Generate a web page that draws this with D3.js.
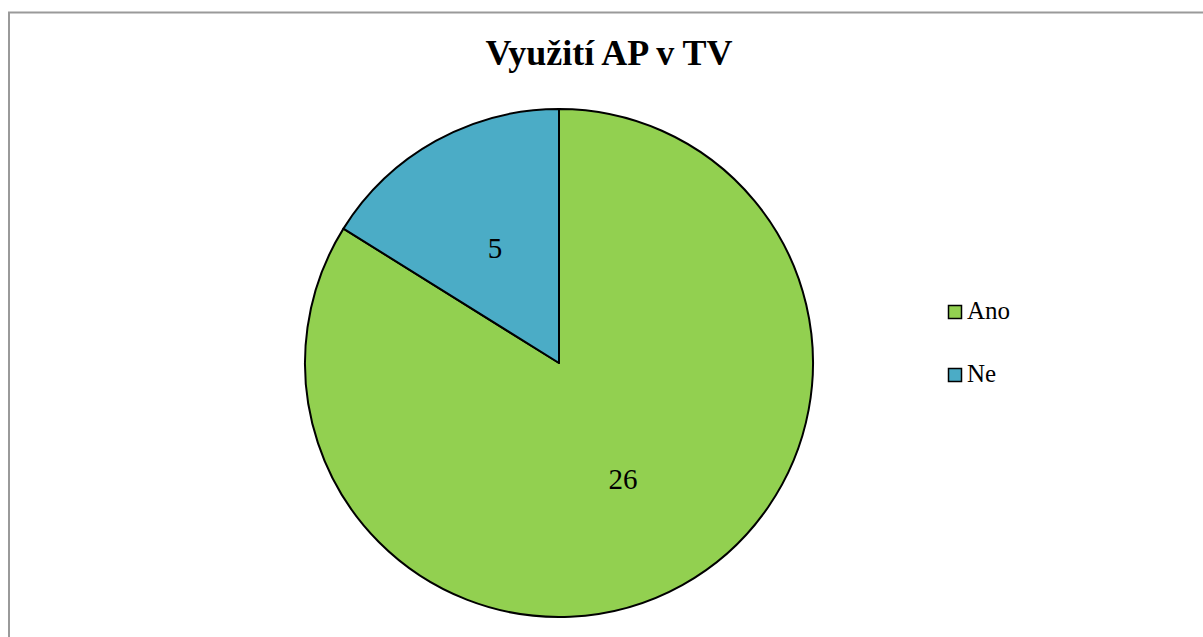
<!DOCTYPE html>
<html><head><meta charset="utf-8">
<script src="https://cdn.jsdelivr.net/npm/d3@7/dist/d3.min.js"></script>
<style>body{margin:0;background:#fff}svg{display:block}</style>
</head><body>
<script>
const categories = ["Ano", "Ne"];
const values = [26, 5];
const colors = ["#92D050", "#4BACC6"];
const title = "Využití AP v TV";
const FONT = "Liberation Serif";

const W = 1203, H = 637;
const svg = d3.select("body").append("svg").attr("width", W).attr("height", H);

// frame
svg.append("rect").attr("x", 9).attr("y", 12.5).attr("width", W + 10).attr("height", H + 10)
  .attr("fill", "#fff").attr("stroke", "#9a9a9a").attr("stroke-width", 2);

svg.append("text").attr("x", 609).attr("y", 65).attr("text-anchor", "middle")
  .attr("font-family", FONT).attr("font-weight", "bold")
  .attr("font-size", 36).attr("fill", "#000").text(title);

const cx = 559, cy = 363, r = 254;
const data = categories.map((c, i) => ({cat: c, val: values[i]}));
const pie = d3.pie().sort(null).value(d => d.val);
const arc = d3.arc().innerRadius(0).outerRadius(r);
const color = d3.scaleOrdinal().domain(categories).range(colors);
const g = svg.append("g").attr("transform", `translate(${cx},${cy})`);
const arcs = pie(data);
g.selectAll("path").data(arcs).join("path")
  .attr("d", arc).attr("fill", d => color(d.data.cat))
  .attr("stroke", "#000").attr("stroke-width", 2).attr("stroke-linejoin", "round");

const labelArc = d3.arc().innerRadius(r * 0.52).outerRadius(r * 0.52);
g.selectAll("text.lbl").data(arcs).join("text").attr("class", "lbl")
  .attr("transform", d => `translate(${labelArc.centroid(d)})`)
  .attr("text-anchor", "middle").attr("dy", "0.35em")
  .attr("font-family", FONT).attr("font-size", 29).attr("fill", "#000")
  .text(d => d.data.val);

// legend
const lg = svg.append("g").attr("transform", "translate(948,305)");
const item = lg.selectAll("g").data(categories).join("g")
  .attr("transform", (d, i) => `translate(0,${i * 63})`);
item.append("rect").attr("width", 13).attr("height", 13).attr("x", 0.5).attr("y", 0.5)
  .attr("fill", d => color(d)).attr("stroke", "#000").attr("stroke-width", 1.5);
item.append("text").attr("x", 19).attr("y", 14)
  .attr("font-family", FONT).attr("font-size", 25).attr("fill", "#000").text(d => d);
</script>
</body></html>
